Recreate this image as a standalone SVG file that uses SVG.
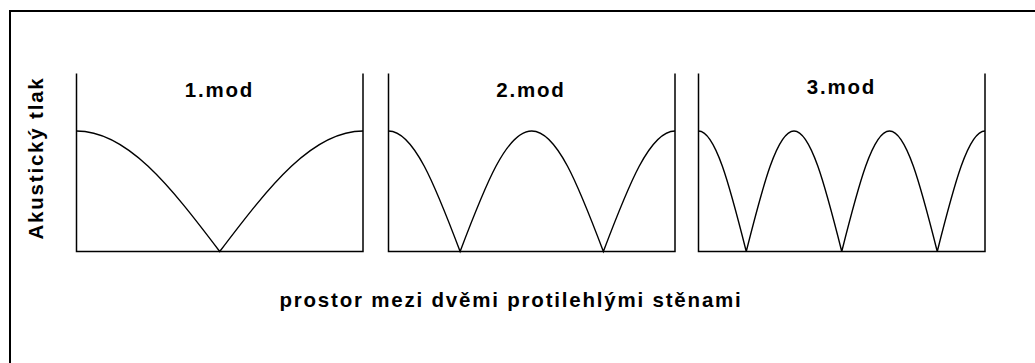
<svg xmlns="http://www.w3.org/2000/svg" width="1035" height="363" viewBox="0 0 1035 363">
<style>
.frame{fill:none;stroke:#000;stroke-width:1.5}
.curve{fill:none;stroke:#000;stroke-width:1.4}
.border{fill:none;stroke:#000;stroke-width:2}
.lbl{font-family:"Liberation Sans",Arial,sans-serif;font-weight:bold;font-size:20.5px;letter-spacing:1.8px;fill:#000;text-anchor:middle}
</style>
<rect width="1035" height="363" fill="#fff"/>
<path class="border" d="M10,363 V11 H1035"/>
<g id="mode1">
<path class="frame" d="M76.5,73.5 V251.5 H363 V73.5"/>
<path class="curve" d="M76.5,131 C126.87,131 169.38,184.95 219.75,251.5 C270.12,184.95 312.63,131 363,131"/>
<text class="lbl" x="219.5" y="97.3">1.mod</text>
</g>
<g id="mode2">
<path class="frame" d="M388.5,73.5 V251.5 H675 V73.5"/>
<path class="curve" d="M388.5,131 C413.68,131 434.94,184.95 460.125,251.5 C485.3,184.95 506.57,131 531.75,131 C556.93,131 578.19,184.95 603.375,251.5 C628.56,184.95 649.82,131 675,131"/>
<text class="lbl" x="531" y="96.8">2.mod</text>
</g>
<g id="mode3">
<path class="frame" d="M698.5,73.5 V251.5 H985 V73.5"/>
<path class="curve" d="M698.5,131 C715.29,131 729.46,184.95 746.25,251.5 C763.04,184.95 777.21,131 794,131 C810.79,131 824.96,184.95 841.75,251.5 C858.54,184.95 872.71,131 889.5,131 C906.29,131 920.46,184.95 937.25,251.5 C954.04,184.95 968.21,131 985,131"/>
<text class="lbl" x="841.5" y="93.5">3.mod</text>
</g>
<g id="axes-labels">
<text class="lbl" transform="translate(43,158) rotate(-90)">Akustický tlak</text>
<text class="lbl" x="511" y="306.5">prostor mezi dvěmi protilehlými stěnami</text>
</g>
</svg>
